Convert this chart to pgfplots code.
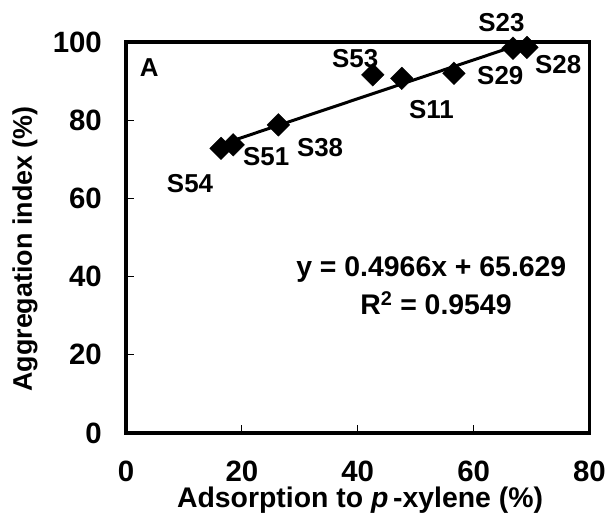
\documentclass[border=0pt]{standalone}
\usepackage{fontspec}
\setmainfont{Liberation Sans}
\usepackage{pgfplots}
\pgfplotsset{compat=1.18}
\begin{document}
\begin{tikzpicture}
\path[use as bounding box] (-126bp,-88bp) rectangle (481bp,433bp);
\begin{axis}[
  scale only axis,
  width=463.5bp, height=391bp,
  xmin=0, xmax=80, ymin=0, ymax=100,
  xtick={0,20,40,60,80}, ytick={0,20,40,60,80,100},
  axis line style={line width=3.5bp},
  tick style={line width=0.8bp, black},
  major tick length=8bp,
  tick align=inside,
  xtick pos=bottom, ytick pos=left,
  /pgf/number format/assume math mode=true,
  tick label style={font=\fontsize{29.5}{32}\selectfont\bfseries},
  yticklabel style={anchor=east, inner sep=0pt, xshift=-24bp},
  xticklabel style={anchor=center, inner sep=0pt, yshift=-38bp},
  xlabel={Adsorption to \textit{p}\,-xylene (\%)},
  ylabel={Aggregation index (\%)},
  xlabel style={font=\fontsize{28.5}{30}\selectfont\bfseries, at={(axis description cs:0.505,-0.172)}, anchor=center, inner sep=0pt},
  ylabel style={font=\fontsize{27}{30}\selectfont\bfseries, at={(axis description cs:-0.218,0.4706)}, anchor=center, inner sep=0pt},
  clip=false,
]
\addplot[black, line width=3bp, no marks] coordinates {(16.4,73.77) (69.2,99.99)};
\addplot[only marks, mark=square*, mark size=8bp, mark options={rotate=45, fill=black, draw=black}] coordinates {
  (16.4,72.8) (18.5,73.7) (26.3,78.8) (42.6,91.6) (47.6,90.7) (56.6,92.0) (66.8,98.4) (69.2,98.6)
};
\begin{scope}[every node/.style={font=\fontsize{26}{28}\selectfont\bfseries, inner sep=0pt, anchor=center}]
\node at (axis cs:11.05,63.9) {S54};
\node at (axis cs:24.2,70.6) {S51};
\node at (axis cs:33.5,72.9) {S38};
\node at (axis cs:39.55,95.65) {S53};
\node at (axis cs:52.7,82.6) {S11};
\node at (axis cs:64.6,91.3) {S29};
\node at (axis cs:74.6,94.1) {S28};
\node at (axis cs:64.8,104.9) {S23};
\node at (axis cs:4.0,93.35) {A};
\end{scope}
\node[font=\fontsize{28.5}{30}\selectfont\bfseries, inner sep=0pt, anchor=center] at (axis cs:52.7,41.7) {y = 0.4966x + 65.629};
\node[font=\fontsize{28.5}{30}\selectfont\bfseries, inner sep=0pt, anchor=center] at (axis cs:53.5,33.2) {R\textsuperscript{2} = 0.9549};
\end{axis}
\end{tikzpicture}
\end{document}
